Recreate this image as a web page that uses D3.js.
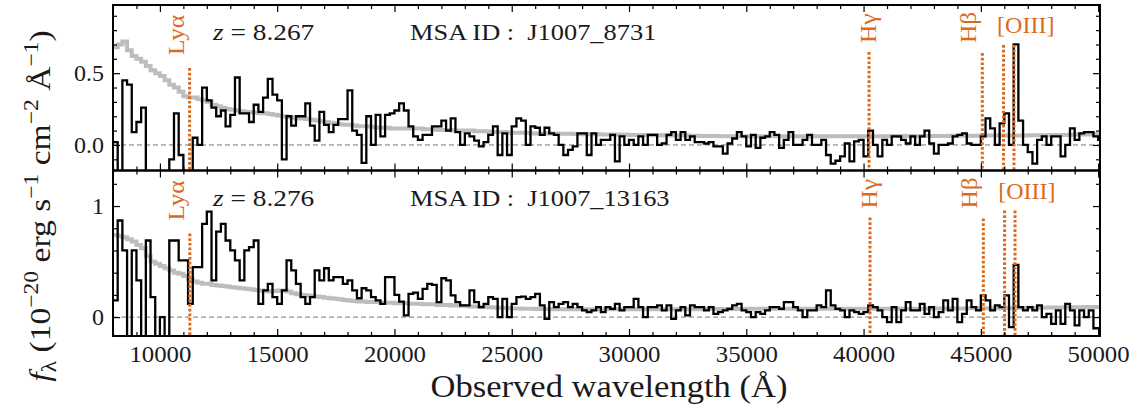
<!DOCTYPE html>
<html>
<head>
<meta charset="utf-8">
<script src="https://cdn.jsdelivr.net/npm/d3@7"></script>
<style>
  body { margin: 0; background: #fff; }
  text { font-family: "Liberation Serif", "DejaVu Serif", serif; }
</style>
</head>
<body>
<svg id="chart" width="1142" height="418"></svg>
<script>
// Bin edges (Å) shared by both spectra
const binEdges = [
  8000, 8200, 8400, 8600, 8800, 9000, 9200, 9400, 9600, 9800,
  10000, 10200, 10400, 10600, 10800, 11000, 11200, 11400, 11600, 11800,
  12000, 12200, 12400, 12600, 12800, 13000, 13200, 13400, 13600, 13800,
  14000, 14200, 14400, 14600, 14800, 15000, 15200, 15400, 15600, 15800,
  16000, 16200, 16400, 16600, 16800, 17000, 17200, 17400, 17600, 17800,
  18000, 18200, 18400, 18600, 18800, 19000, 19200, 19400, 19600, 19800,
  20000, 20200, 20400, 20600, 20800, 21000, 21200, 21400, 21600, 21800,
  22000, 22200, 22400, 22600, 22800, 23000, 23200, 23400, 23600, 23800,
  24000, 24200, 24400, 24600, 24800, 25000, 25200, 25400, 25600, 25800,
  26000, 26200, 26400, 26600, 26800, 27000, 27200, 27400, 27600, 27800,
  28000, 28200, 28400, 28600, 28800, 29000, 29200, 29400, 29600, 29800,
  30000, 30200, 30400, 30600, 30800, 31000, 31200, 31400, 31600, 31800,
  32000, 32200, 32400, 32600, 32800, 33000, 33200, 33400, 33600, 33800,
  34000, 34200, 34400, 34600, 34800, 35000, 35200, 35400, 35600, 35800,
  36000, 36200, 36400, 36600, 36800, 37000, 37200, 37400, 37600, 37800,
  38000, 38200, 38400, 38600, 38800, 39000, 39200, 39400, 39600, 39800,
  40000, 40200, 40400, 40600, 40800, 41000, 41200, 41400, 41600, 41800,
  42000, 42200, 42400, 42600, 42800, 43000, 43200, 43400, 43600, 43800,
  44000, 44200, 44400, 44600, 44800, 45000, 45200, 45400, 45600, 45800,
  46000, 46200, 46400, 46600, 46800, 47000, 47200, 47400, 47600, 47800,
  48000, 48200, 48400, 48600, 48800, 49000, 49200, 49400, 49600, 49800,
  50000, 50200
];

// J1007_8731: observed flux per bin (1e-20 erg/s/cm2/Å)
const fluxA = [
  0.02, -0.30, 0.45, 0.42, 0.09, 0.16, 0.26, -0.30, -0.30, -0.30,
  -0.30, -0.30, -0.10, 0.22, -0.07, -0.25, -0.20, 0.05, 0.00, 0.40,
  0.31, 0.26, 0.20, 0.24, 0.13, 0.21, 0.47, 0.22, 0.22, 0.16,
  0.28, 0.23, 0.33, 0.46, 0.35, 0.31, -0.10, 0.20, 0.135, 0.20,
  0.20, 0.29, 0.135, 0.03, 0.23, 0.14, 0.09, 0.14, 0.18, 0.18,
  0.38, 0.10, 0.07, -0.125, 0.20, 0.00, 0.21, 0.06, 0.21, 0.22,
  0.24, 0.29, 0.24, 0.13, 0.06, 0.035, 0.07, 0.07, 0.13, 0.13,
  0.17, 0.10, 0.185, 0.09, 0.00, 0.08, 0.06, 0.03, -0.01, 0.02,
  0.07, 0.13, -0.07, 0.08, -0.07, 0.13, 0.185, 0.17, 0.00, 0.13,
  0.12, 0.07, 0.12, 0.08, 0.07, 0.00, -0.07, -0.035, -0.01, 0.08,
  0.08, -0.07, 0.08, 0.00, 0.035, 0.035, 0.07, -0.115, 0.06, 0.00,
  0.035, 0.00, 0.06, 0.00, 0.07, 0.07, 0.00, 0.01, 0.07, 0.09,
  0.035, 0.09, 0.035, 0.06, 0.02, 0.02, 0.01, 0.02, -0.01, -0.01,
  -0.06, 0.01, 0.045, 0.09, 0.06, -0.01, 0.07, -0.02, 0.05, 0.06,
  0.09, 0.07, -0.02, 0.035, 0.09, 0.00, 0.00, 0.035, 0.07, 0.00,
  0.00, 0.035, -0.07, -0.13, -0.11, -0.08, 0.01, -0.115, 0.025, 0.035,
  -0.08, 0.10, 0.00, -0.08, 0.035, 0.00, 0.06, 0.06, 0.035, 0.01,
  0.06, 0.00, 0.06, 0.10, 0.01, -0.06, 0.00, 0.00, 0.01, 0.06,
  0.07, 0.08, 0.01, 0.00, 0.00, 0.06, 0.185, 0.115, 0.00, 0.15,
  0.22, 0.00, 0.70, 0.17, 0.00, -0.05, -0.13, 0.035, 0.06, 0.00,
  0.06, 0.06, -0.08, 0.00, 0.115, 0.035, 0.08, 0.09, 0.09, 0.06,
  0.035
];

// J1007_8731: model continuum per bin
const modelA = [
  0.68, 0.70, 0.72, 0.66, 0.62, 0.60, 0.58, 0.55, 0.52, 0.50,
  0.48, 0.45, 0.42, 0.40, 0.37, 0.34, 0.33, 0.33, 0.32, 0.31,
  0.30, 0.28, 0.27, 0.26, 0.25, 0.245, 0.24, 0.235, 0.23, 0.23,
  0.225, 0.22, 0.22, 0.215, 0.21, 0.205, 0.20, 0.195, 0.19, 0.185,
  0.185, 0.18, 0.175, 0.17, 0.165, 0.16, 0.155, 0.15, 0.145, 0.14,
  0.14, 0.135, 0.13, 0.13, 0.13, 0.125, 0.12, 0.12, 0.12, 0.115,
  0.115, 0.115, 0.115, 0.115, 0.115, 0.115, 0.11, 0.11, 0.11, 0.105,
  0.105, 0.105, 0.10, 0.10, 0.10, 0.10, 0.10, 0.095, 0.095, 0.095,
  0.09, 0.09, 0.09, 0.09, 0.085, 0.085, 0.085, 0.085, 0.085, 0.08,
  0.08, 0.08, 0.08, 0.08, 0.08, 0.078, 0.078, 0.078, 0.076, 0.076,
  0.075, 0.075, 0.074, 0.074, 0.073, 0.073, 0.072, 0.072, 0.071, 0.071,
  0.07, 0.07, 0.07, 0.069, 0.069, 0.068, 0.068, 0.067, 0.067, 0.066,
  0.066, 0.065, 0.065, 0.064, 0.064, 0.063, 0.063, 0.062, 0.062, 0.061,
  0.061, 0.06, 0.06, 0.06, 0.06, 0.06, 0.06, 0.06, 0.06, 0.06,
  0.06, 0.06, 0.06, 0.06, 0.06, 0.06, 0.06, 0.06, 0.06, 0.06,
  0.06, 0.06, 0.06, 0.06, 0.06, 0.06, 0.06, 0.06, 0.06, 0.06,
  0.06, 0.06, 0.06, 0.061, 0.061, 0.061, 0.062, 0.062, 0.062, 0.062,
  0.062, 0.062, 0.063, 0.063, 0.063, 0.063, 0.063, 0.063, 0.064, 0.064,
  0.064, 0.064, 0.064, 0.064, 0.064, 0.065, 0.065, 0.065, 0.065, 0.065,
  0.065, 0.065, 0.066, 0.066, 0.066, 0.067, 0.067, 0.067, 0.068, 0.068,
  0.069, 0.069, 0.07, 0.07, 0.071, 0.072, 0.072, 0.073, 0.074, 0.075,
  0.075
];

// J1007_13163: observed flux per bin
const fluxB = [
  0.15, 0.87, 0.60, -0.30, 0.60, 0.33, -0.30, 0.69, 0.18, -0.30,
  0.00, -0.30, 0.69, 0.69, 0.51, 0.51, 0.12, 0.45, 0.45, 0.84,
  0.95, 0.33, 0.77, 0.84, 0.69, 0.60, 0.51, 0.33, 0.60, 0.63,
  0.69, 0.12, 0.24, 0.30, 0.18, 0.12, 0.24, 0.51, 0.42, 0.30,
  0.18, 0.12, 0.18, 0.42, 0.33, 0.44, 0.33, 0.36, 0.36, 0.30,
  0.33, 0.24, 0.17, 0.26, 0.24, 0.18, 0.15, 0.12, 0.36, 0.36,
  0.20, 0.14, 0.015, 0.21, 0.22, 0.165, 0.255, 0.30, 0.29, 0.135,
  0.35, 0.33, 0.195, 0.135, 0.105, 0.105, 0.24, 0.135, 0.09, 0.12,
  0.18, 0.165, 0.00, 0.165, 0.00, 0.12, 0.18, 0.185, 0.165, 0.18,
  0.21, 0.105, -0.015, 0.135, 0.09, 0.12, 0.135, 0.09, 0.12, 0.09,
  0.06, 0.045, 0.06, 0.09, 0.045, 0.09, 0.075, 0.12, 0.06, 0.09,
  0.09, 0.165, 0.09, 0.00, 0.09, 0.09, 0.105, 0.06, 0.105, -0.015,
  0.06, 0.09, 0.015, 0.105, 0.09, 0.09, 0.06, 0.09, 0.03, 0.045,
  0.06, 0.075, 0.105, 0.12, 0.06, 0.045, 0.00, 0.045, 0.03, 0.06,
  0.09, 0.09, 0.075, 0.135, 0.135, 0.09, 0.06, 0.00, 0.06, 0.06,
  0.105, 0.09, 0.24, 0.105, 0.075, 0.06, 0.00, 0.06, 0.045, 0.03,
  0.045, 0.105, 0.09, 0.06, 0.00, -0.045, 0.09, -0.045, 0.06, 0.135,
  0.06, 0.06, 0.12, 0.03, 0.09, 0.00, 0.045, 0.15, 0.06, 0.165,
  -0.045, 0.03, 0.15, 0.09, 0.06, 0.195, 0.15, 0.06, 0.105, 0.09,
  0.195, -0.09, 0.47, 0.09, 0.06, 0.09, 0.06, 0.105, 0.00, 0.03,
  -0.06, 0.06, -0.06, 0.12, 0.06, -0.075, 0.06, 0.00, 0.06, -0.10,
  -0.10
];

// J1007_13163: model continuum per bin
const modelB = [
  0.74, 0.73, 0.72, 0.70, 0.68, 0.65, 0.62, 0.55, 0.50, 0.48,
  0.46, 0.44, 0.42, 0.40, 0.39, 0.37, 0.34, 0.32, 0.31, 0.30,
  0.30, 0.29, 0.285, 0.28, 0.275, 0.27, 0.265, 0.26, 0.255, 0.25,
  0.245, 0.24, 0.235, 0.23, 0.235, 0.24, 0.24, 0.23, 0.215, 0.205,
  0.20, 0.195, 0.19, 0.185, 0.18, 0.175, 0.17, 0.165, 0.16, 0.155,
  0.15, 0.145, 0.14, 0.14, 0.135, 0.135, 0.135, 0.13, 0.13, 0.13,
  0.125, 0.125, 0.125, 0.12, 0.12, 0.12, 0.115, 0.115, 0.115, 0.11,
  0.11, 0.11, 0.105, 0.105, 0.10, 0.10, 0.095, 0.095, 0.09, 0.09,
  0.088, 0.086, 0.084, 0.082, 0.08, 0.078, 0.077, 0.076, 0.075, 0.075,
  0.074, 0.073, 0.072, 0.071, 0.07, 0.07, 0.07, 0.07, 0.07, 0.07,
  0.07, 0.07, 0.07, 0.07, 0.07, 0.07, 0.07, 0.07, 0.07, 0.07,
  0.07, 0.07, 0.07, 0.07, 0.07, 0.07, 0.07, 0.07, 0.07, 0.07,
  0.07, 0.07, 0.07, 0.071, 0.071, 0.071, 0.072, 0.072, 0.072, 0.073,
  0.073, 0.073, 0.074, 0.074, 0.074, 0.075, 0.075, 0.075, 0.075, 0.075,
  0.075, 0.075, 0.075, 0.075, 0.075, 0.075, 0.075, 0.075, 0.075, 0.075,
  0.075, 0.075, 0.075, 0.075, 0.075, 0.075, 0.075, 0.075, 0.075, 0.075,
  0.075, 0.075, 0.075, 0.075, 0.075, 0.075, 0.075, 0.075, 0.075, 0.075,
  0.076, 0.076, 0.076, 0.076, 0.077, 0.077, 0.077, 0.077, 0.078, 0.078,
  0.078, 0.078, 0.079, 0.079, 0.079, 0.08, 0.08, 0.08, 0.08, 0.081,
  0.081, 0.082, 0.082, 0.083, 0.083, 0.084, 0.084, 0.085, 0.085, 0.086,
  0.086, 0.087, 0.087, 0.088, 0.088, 0.089, 0.089, 0.09, 0.09, 0.09,
  0.09
];

const redshifts = [8.267, 8.276];
const msaIds = ["J1007_8731", "J1007_13163"];

// Emission features: label and rest-frame wavelength (Å)
const lineNames = ["Lyα", "Hγ", "Hβ", "[OIII]", "[OIII]"];
const restWavelengths = [1215.67, 4341.69, 4862.69, 4960.30, 5008.24];

const xMajorTicks = [10000, 15000, 20000, 25000, 30000, 35000, 40000, 45000, 50000];
const xMinorTicks = [8000, 9000, 11000, 12000, 13000, 14000, 16000, 17000, 18000, 19000,
  21000, 22000, 23000, 24000, 26000, 27000, 28000, 29000, 31000, 32000, 33000, 34000,
  36000, 37000, 38000, 39000, 41000, 42000, 43000, 44000, 46000, 47000, 48000, 49000];
const yMajorTicksA = [0.0, 0.5];
const yMinorTicksA = [-0.1, 0.1, 0.2, 0.3, 0.4, 0.6, 0.7, 0.8, 0.9];
const yMajorTicksB = [0, 1];
const yMinorTicksB = [0.2, 0.4, 0.6, 0.8, 1.2];

// ---------- layout ----------
const svg = d3.select("#chart");
const left = 113, right = 1100;
const panels = [
  { top: 5, bottom: 170.5, yDomain: [-0.178, 0.975], flux: fluxA, model: modelA,
    yMajor: yMajorTicksA, yMinor: yMinorTicksA, yFmt: d3.format(".1f"), showX: false },
  { top: 170.5, bottom: 336, yDomain: [-0.17, 1.32], flux: fluxB, model: modelB,
    yMajor: yMajorTicksB, yMinor: yMinorTicksB, yFmt: d3.format("d"), showX: true }
];
const orange = "#dc6a1c";
const ink = "#1a1a1a";
const fontFam = '"Liberation Serif", "DejaVu Serif", serif';

// label placement per feature: dotted-line start and label position below the panel top, label baseline shift
const featureLayout = [
  { lineStart: 63, labelY: 50, dx: -6 },
  { lineStart: 47, labelY: 38, dx: 7 },
  { lineStart: 48, labelY: 38, dx: -6 },
  { lineStart: 40, labelY: 28, dx: 0 },
  { lineStart: 40, labelY: 28, dx: 0 }
];

// text drawn with a horizontal stretch (wide serif look)
function wideText(parent, x, y, sx, size) {
  return parent.append("g").attr("transform", `translate(${x},${y}) scale(${sx},1)`)
    .append("text").style("font-size", size + "px").attr("fill", ink);
}

const x = d3.scaleLinear().domain([8000, 50080]).range([left, right]);

panels.forEach((p, pi) => {
  const y = d3.scaleLinear().domain(p.yDomain).range([p.bottom, p.top]);
  const g = svg.append("g");
  const clipId = "clip" + pi;
  svg.append("clipPath").attr("id", clipId)
    .append("rect").attr("x", left).attr("y", p.top).attr("width", right - left).attr("height", p.bottom - p.top);
  const plot = g.append("g").attr("clip-path", `url(#${clipId})`);

  // zero reference
  plot.append("line")
    .attr("x1", left).attr("x2", right).attr("y1", y(0)).attr("y2", y(0))
    .attr("stroke", "#777").attr("stroke-width", 1).attr("stroke-dasharray", "5,3");

  const stepPts = arr => {
    const pts = arr.map((v, i) => [binEdges[i], v]);
    pts.push([binEdges[arr.length], arr[arr.length - 1]]);
    return pts;
  };
  const line = d3.line().x(d => x(d[0])).y(d => y(d[1])).curve(d3.curveStepAfter);

  plot.append("path").attr("d", line(stepPts(p.model)))
    .attr("fill", "none").attr("stroke", "#bdbdbd").attr("stroke-width", 4);
  plot.append("path").attr("d", line(stepPts(p.flux)))
    .attr("fill", "none").attr("stroke", "#000").attr("stroke-width", 2.3);

  // emission features
  const z = redshifts[pi];
  restWavelengths.forEach((rw, k) => {
    const lx = x(rw * (1 + z));
    const lay = featureLayout[k];
    plot.append("line")
      .attr("x1", lx).attr("x2", lx).attr("y1", p.top + lay.lineStart).attr("y2", p.bottom)
      .attr("stroke", orange).attr("stroke-width", 3).attr("stroke-dasharray", "2.7,2");
  });
  // feature labels (the [OIII] doublet shares a single label)
  [0, 1, 2].forEach(k => {
    const lx = x(restWavelengths[k] * (1 + z));
    const lay = featureLayout[k];
    g.append("text")
      .attr("transform", `translate(${lx + lay.dx},${p.top + lay.labelY}) rotate(-90) scale(1.06,1)`)
      .attr("fill", orange).style("font-size", "24px").text(lineNames[k]);
  });
  const oMid = (x(restWavelengths[3] * (1 + z)) + x(restWavelengths[4] * (1 + z))) / 2;
  g.append("text")
    .attr("x", oMid + 17).attr("y", p.top + 28).attr("text-anchor", "middle")
    .attr("fill", orange).style("font-size", "24px").text(lineNames[3]);

  // annotations
  const ann = wideText(g, 213, p.top + 35, 1.14, 24);
  ann.append("tspan").style("font-style", "italic").text("z");
  ann.append("tspan").text(" = " + redshifts[pi].toFixed(3));
  wideText(g, 410, p.top + 35, 1.10, 24).text("MSA ID :\u00a0\u00a0" + msaIds[pi]);

  // axes with inward ticks on all sides
  const styleAxis = (sel) => {
    sel.select(".domain").remove();
    sel.selectAll("line").attr("stroke", "#000").attr("stroke-width", 1.2);
    sel.selectAll("text").style("font-family", fontFam).style("font-size", "24px").attr("fill", ink);
  };
  const bottomMajor = d3.axisBottom(x).tickValues(xMajorTicks).tickSize(-7).tickPadding(9)
    .tickFormat(p.showX ? d3.format("d") : () => "");
  const xAx = g.append("g").attr("transform", `translate(0,${p.bottom})`).call(bottomMajor).call(styleAxis);
  if (p.showX) {
    xAx.selectAll("text").attr("textLength", 62).attr("lengthAdjust", "spacingAndGlyphs");
  }
  g.append("g").attr("transform", `translate(0,${p.bottom})`)
    .call(d3.axisBottom(x).tickValues(xMinorTicks).tickSize(-4).tickFormat(() => "")).call(styleAxis);
  g.append("g").attr("transform", `translate(0,${p.top})`)
    .call(d3.axisTop(x).tickValues(xMajorTicks).tickSize(-7).tickFormat(() => "")).call(styleAxis);
  g.append("g").attr("transform", `translate(0,${p.top})`)
    .call(d3.axisTop(x).tickValues(xMinorTicks).tickSize(-4).tickFormat(() => "")).call(styleAxis);

  g.append("g").attr("transform", `translate(${left},0)`)
    .call(d3.axisLeft(y).tickValues(p.yMajor).tickSize(-7).tickPadding(9).tickFormat(p.yFmt)).call(styleAxis);
  g.append("g").attr("transform", `translate(${left},0)`)
    .call(d3.axisLeft(y).tickValues(p.yMinor).tickSize(-4).tickFormat(() => "")).call(styleAxis);
  g.append("g").attr("transform", `translate(${right},0)`)
    .call(d3.axisRight(y).tickValues(p.yMajor).tickSize(-7).tickFormat(() => "")).call(styleAxis);
  g.append("g").attr("transform", `translate(${right},0)`)
    .call(d3.axisRight(y).tickValues(p.yMinor).tickSize(-4).tickFormat(() => "")).call(styleAxis);

  g.append("rect").attr("x", left).attr("y", p.top).attr("width", right - left).attr("height", p.bottom - p.top)
    .attr("fill", "none").attr("stroke", "#000").attr("stroke-width", 2);
});

// axis titles
wideText(svg, 609, 397, 1.08, 32).attr("text-anchor", "middle").text("Observed wavelength (Å)");

const yt = svg.append("g").attr("transform", "translate(50,206) rotate(-90) scale(1.12,1)")
  .append("text").attr("text-anchor", "middle").style("font-size", "30px").attr("fill", ink);
yt.append("tspan").style("font-style", "italic").text("f");
yt.append("tspan").attr("dy", 6).style("font-size", "21px").text("λ");
yt.append("tspan").attr("dy", -6).text(" (10");
yt.append("tspan").attr("dy", -12).style("font-size", "21px").text("−20");
yt.append("tspan").attr("dy", 12).text(" erg s");
yt.append("tspan").attr("dy", -12).style("font-size", "21px").text("−1");
yt.append("tspan").attr("dy", 12).text(" cm");
yt.append("tspan").attr("dy", -12).style("font-size", "21px").text("−2");
yt.append("tspan").attr("dy", 12).text(" Å");
yt.append("tspan").attr("dy", -12).style("font-size", "21px").text("−1");
yt.append("tspan").attr("dy", 12).text(")");
</script>
</body>
</html>
